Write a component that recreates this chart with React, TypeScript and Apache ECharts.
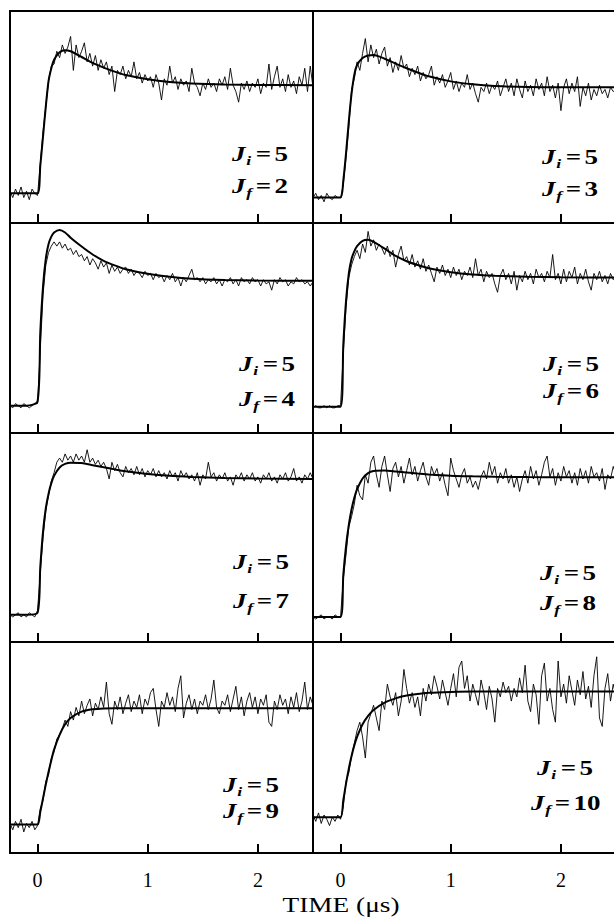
import React, { useEffect, useRef } from "react";
import * as echarts from "echarts";

// Sample times of the recorded traces (μs)
const TIME = [
  -0.25, -0.225, -0.2, -0.175, -0.15, -0.125, -0.1, -0.075, -0.05, -0.025,
  0, 0.025, 0.05, 0.075, 0.1, 0.125, 0.15, 0.175, 0.2, 0.225,
  0.25, 0.275, 0.3, 0.325, 0.35, 0.375, 0.4, 0.425, 0.45, 0.475,
  0.5, 0.525, 0.55, 0.575, 0.6, 0.625, 0.65, 0.675, 0.7, 0.725,
  0.75, 0.775, 0.8, 0.825, 0.85, 0.875, 0.9, 0.925, 0.95, 0.975,
  1.0, 1.025, 1.05, 1.075, 1.1, 1.125, 1.15, 1.175, 1.2, 1.225,
  1.25, 1.275, 1.3, 1.325, 1.35, 1.375, 1.4, 1.425, 1.45, 1.475,
  1.5, 1.525, 1.55, 1.575, 1.6, 1.625, 1.65, 1.675, 1.7, 1.725,
  1.75, 1.775, 1.8, 1.825, 1.85, 1.875, 1.9, 1.925, 1.95, 1.975,
  2.0, 2.025, 2.05, 2.075, 2.1, 2.125, 2.15, 2.175, 2.2, 2.225,
  2.25, 2.275, 2.3, 2.325, 2.35, 2.375, 2.4, 2.425, 2.45, 2.475,
  2.5,
];

// Times at which the fitted curves are given (μs)
const FIT_TIME = [
  -0.25, -0.1, 0, 0.025, 0.05, 0.075, 0.1, 0.125, 0.15, 0.2, 0.25, 0.3,
  0.4, 0.5, 0.6, 0.7, 0.8, 1.0, 1.2, 1.4, 1.7, 2.0, 2.5,
];

const JI = 5;
const JF = [2, 3, 4, 6, 7, 8, 9, 10];
const X_TICKS = [0, 1, 2];

// Measured signals (arb. units, % of panel height)
const DATA_JF2 = [
  15, 12, 16, 13, 17, 12, 15, 11, 16, 14,
  13, 28, 43, 55, 67, 74, 75, 81, 78, 84,
  80, 83, 88, 72, 84, 78, 81, 85, 76, 80,
  74, 79, 72, 77, 73, 76, 70, 74, 62, 72,
  70, 74, 68, 72, 69, 76, 68, 71, 66, 70,
  67, 69, 64, 70, 66, 58, 68, 65, 74, 66,
  69, 63, 68, 65, 67, 62, 73, 66, 64, 60,
  66, 63, 68, 64, 66, 62, 68, 65, 69, 63,
  73, 65, 62, 57, 66, 63, 67, 62, 66, 64,
  68, 61, 66, 64, 75, 63, 69, 74, 64, 68,
  62, 70, 64, 67, 61, 69, 65, 73, 62, 74,
  64,
];
const DATA_JF3 = [
  12, 14, 11, 13, 10, 14, 12, 11, 13, 12,
  12, 18, 31, 45, 63, 68, 76, 72, 80, 87,
  76, 84, 78, 82, 75, 80, 83, 74, 78, 71,
  76, 72, 79, 73, 75, 69, 73, 70, 74, 67,
  71, 68, 70, 74, 65, 69, 66, 70, 64, 67,
  71, 63, 67, 62, 66, 64, 70, 63, 66, 61,
  57, 64, 62, 66, 61, 65, 63, 67, 60, 64,
  68, 62, 66, 60, 68, 63, 59, 67, 62, 65,
  60, 68, 63, 66, 60, 69, 62, 65, 59, 66,
  53, 64, 68, 61, 66, 62, 69, 55, 64, 60,
  66, 58, 63, 60, 65, 61, 63, 59, 64, 62,
  63,
];
const DATA_JF4 = [
  13, 12, 14, 13, 12, 14, 13, 12, 13, 14,
  14, 40, 66, 80, 86, 89, 91, 89, 91, 88,
  90, 87, 88, 85, 87, 84, 85, 82, 84, 80,
  83, 81, 78, 82, 79, 81, 76, 80, 77, 79,
  76, 78, 79, 76, 78, 75, 77, 76, 74, 77,
  75, 76, 73, 76, 74, 75, 72, 75, 73, 76,
  72, 74, 70, 74, 72, 75, 78, 73, 74, 72,
  74, 71, 73, 72, 74, 71, 73, 70, 73, 72,
  74, 71, 73, 70, 74, 72, 73, 71, 74, 72,
  73, 70, 73, 71, 72, 68, 73, 71, 74, 72,
  73, 70, 72, 71, 74, 72, 73, 71, 72, 70,
  72,
];
const DATA_JF6 = [
  12, 13, 12, 12, 13, 12, 13, 12, 12, 13,
  13, 38, 60, 74, 80, 84, 87, 83, 90, 86,
  96, 89, 92, 87, 90, 88, 85, 89, 84, 87,
  79, 85, 89, 82, 84, 80, 85, 79, 82, 78,
  83, 77, 80, 76, 72, 79, 76, 80, 75, 78,
  74, 79, 75, 78, 73, 77, 75, 79, 74, 83,
  75, 78, 72, 77, 74, 76, 71, 67, 75, 78,
  73, 76, 71, 77, 68, 75, 72, 77, 73, 76,
  71, 78, 74, 76, 72, 77, 74, 85, 73, 76,
  71, 78, 72, 77, 74, 79, 71, 76, 73, 78,
  72, 68, 76, 73, 77, 72, 75, 71, 76, 73,
  75,
];
const DATA_JF7 = [
  13, 12, 13, 14, 12, 13, 12, 14, 13, 12,
  15, 33, 50, 63, 70, 77, 81, 86, 88, 86,
  90, 87, 89, 86, 90, 87, 89, 86, 92, 86,
  88, 85, 87, 84, 86, 83, 78, 86, 82, 85,
  81, 79, 84, 81, 83, 80, 84, 80, 83, 79,
  82, 80, 83, 79, 82, 79, 81, 78, 82, 79,
  81, 77, 82, 79, 81, 78, 80, 77, 81, 75,
  80, 78, 86, 79, 81, 77, 80, 78, 81, 77,
  79, 75, 80, 78, 81, 77, 80, 78, 81, 77,
  79, 76, 80, 78, 81, 77, 79, 76, 80, 78,
  81, 77, 79, 83, 77, 79, 76, 80, 78, 81,
  78,
];
const DATA_JF8 = [
  12, 11, 12, 13, 11, 12, 12, 11, 13, 12,
  12, 30, 42, 55, 60, 66, 75, 70, 68, 80,
  76, 86, 89, 80, 74, 84, 89, 80, 72, 83,
  86, 79, 84, 76, 82, 88, 80, 84, 77, 82,
  86, 79, 75, 84, 80, 83, 77, 81, 75, 70,
  88, 82, 78, 74, 80, 83, 76, 79, 74, 77,
  73, 79, 82, 78, 86, 80, 84, 76, 81, 78,
  83, 76, 80, 74, 79, 72, 78, 82, 76, 84,
  78, 82, 75, 80, 86, 89, 79, 83, 75, 81,
  77, 84, 79, 82, 76, 81, 75, 83, 78, 82,
  76, 84, 79, 81, 77, 83, 73, 80, 78, 84,
  80,
];
const DATA_JF9 = [
  14, 11, 15, 12, 16, 10, 14, 12, 15, 11,
  13, 21, 25, 34, 37, 45, 48, 54, 56, 59,
  63, 60, 67, 63, 69, 65, 72, 66, 70, 73,
  65, 71, 68, 74, 69, 81, 66, 61, 72, 68,
  74, 66, 71, 75, 67, 72, 69, 75, 66, 73,
  70, 76, 78, 68, 60, 72, 69, 76, 70, 74,
  67, 78, 84, 64, 71, 75, 68, 73, 66, 72,
  70, 75, 68, 73, 82, 69, 66, 72, 70, 75,
  67, 73, 79, 68, 74, 65, 72, 76, 69, 74,
  66, 73, 70, 75, 62, 60, 72, 68, 75, 70,
  73, 66, 74, 69, 76, 67, 72, 81, 68, 74,
  70,
];
const DATA_JF10 = [
  18, 15, 19, 14, 18, 16, 13, 17, 15, 18,
  16, 22, 34, 38, 46, 52, 58, 62, 55, 45,
  62, 66, 70, 64, 58, 72, 68, 80, 74, 70,
  76, 65, 72, 87, 78, 71, 76, 69, 74, 65,
  78, 72, 80, 75, 84, 79, 73, 82, 76, 70,
  78, 85, 74, 88, 91, 78, 84, 72, 80, 75,
  70, 82, 76, 68, 79, 73, 62, 78, 74, 81,
  76, 79, 72, 78, 74, 83, 76, 89, 72, 67,
  80, 75, 61, 84, 90, 72, 78, 68, 62, 91,
  74, 80, 71, 84, 77, 70, 82, 75, 86, 73,
  79, 69, 84, 93, 64, 60, 78, 85, 72, 80,
  74,
];

// Fitted curves (same units)
const FIT_JF2 = [14, 14, 14, 27, 41, 55, 67, 73, 77, 80.5, 81.5, 81, 78.3, 75.5, 73.3, 71.4, 69.8, 67.8, 66.5, 65.8, 65.3, 65.1, 65];
const FIT_JF3 = [12, 12, 12, 20, 33, 48, 61, 70, 74.5, 77.8, 79, 79.2, 77.5, 75.2, 73, 71, 69.2, 66.8, 65.4, 64.6, 64.1, 64, 64];
const FIT_JF4 = [13, 13, 15, 48, 70, 83, 90, 93.5, 95.5, 96.7, 95.5, 93, 88.8, 85, 82, 79.8, 78, 75.8, 74.4, 73.5, 72.9, 72.6, 72.5];
const FIT_JF6 = [12.5, 12.5, 12.5, 42, 63, 76, 83, 86.5, 89, 91.5, 92, 91, 87.8, 84.3, 81.8, 80, 78.5, 76.6, 75.5, 74.9, 74.4, 74.2, 74];
const FIT_JF7 = [13, 13, 14, 36, 53, 64, 71, 76, 79.5, 83.5, 85.2, 85.8, 85.6, 84.6, 83.6, 82.6, 81.7, 80.4, 79.5, 79, 78.5, 78.2, 78];
const FIT_JF8 = [12, 12, 12, 32, 46, 56, 63.5, 69, 73, 78.2, 80.8, 81.8, 82, 81.6, 81.1, 80.6, 80.2, 79.6, 79.3, 79.1, 78.9, 78.8, 78.8];
const FIT_JF9 = [13.5, 13.5, 13.5, 19.5, 26, 32.5, 38.5, 44, 49, 56, 61, 64, 67, 68.1, 68.5, 68.6, 68.6, 68.6, 68.6, 68.6, 68.6, 68.6, 68.6];
const FIT_JF10 = [17, 17, 17, 25, 33, 40, 46, 51, 55, 61, 65, 67.8, 71.3, 73.3, 74.6, 75.4, 75.9, 76.3, 76.5, 76.5, 76.5, 76.5, 76.5];

const DATA = [DATA_JF2, DATA_JF3, DATA_JF4, DATA_JF6, DATA_JF7, DATA_JF8, DATA_JF9, DATA_JF10];
const FITS = [FIT_JF2, FIT_JF3, FIT_JF4, FIT_JF6, FIT_JF7, FIT_JF8, FIT_JF9, FIT_JF10];

// ---- layout (pixels) ----
const W = 614;
const H = 921;
const COL_LEFT = [10, 313];
const COL_W = 303;
const ROW_TOP = [11, 223, 433, 642];
const ROW_BOTTOM = [223, 433, 642, 853];
// label anchors: [x of J_i line, y of J_i line, x of J_f line, y of J_f line]
const LABEL_POS = [
  [232, 154, 232, 186],
  [542, 157, 542, 189],
  [239, 364, 239, 399],
  [543, 364, 543, 391],
  [233, 562, 233, 601],
  [540, 573, 540, 603],
  [223, 785, 223, 811],
  [537, 768, 531, 803],
];
const SERIF = '"Liberation Serif", "Times New Roman", serif';

function jLine(x: number, y: number, sub: string, value: number) {
  const base = { fill: "#000", fontFamily: SERIF, verticalAlign: "middle", align: "left" };
  return {
    type: "group",
    x,
    y,
    scaleX: 1.35,
    silent: true,
    children: [
      { type: "text", x: 0, y: 0, style: { ...base, text: "J", fontSize: 20, fontWeight: "bold", fontStyle: "italic" } },
      { type: "text", x: 10.5, y: 6, style: { ...base, text: sub, fontSize: 13, fontWeight: "bold", fontStyle: "italic" } },
      { type: "text", x: 17.5, y: 0, style: { ...base, text: "=", fontSize: 20, fontWeight: "bold" } },
      { type: "text", x: 31.5, y: 0, style: { ...base, text: String(value), fontSize: 20, fontWeight: "bold" } },
    ],
  };
}

export default function App() {
  const ref = useRef<HTMLDivElement>(null);
  useEffect(() => {
    if (!ref.current) return;
    const chart = echarts.init(ref.current, undefined, { renderer: "svg" });
    const grids: any[] = [];
    const xAxes: any[] = [];
    const yAxes: any[] = [];
    const series: any[] = [];
    const graphics: any[] = [];
    for (let k = 0; k < 8; k++) {
      const row = Math.floor(k / 2);
      const col = k % 2;
      grids.push({
        left: COL_LEFT[col],
        top: ROW_TOP[row],
        width: COL_W,
        height: ROW_BOTTOM[row] - ROW_TOP[row],
        show: true,
        borderColor: "#000",
        borderWidth: 2,
        backgroundColor: "transparent",
        containLabel: false,
        outerBoundsMode: "none",
      });
      xAxes.push({
        type: "value",
        gridIndex: k,
        min: -0.25,
        max: 2.5,
        axisLine: { show: false },
        splitLine: { show: false },
        axisTick: {
          show: true,
          inside: true,
          length: 9,
          customValues: X_TICKS,
          lineStyle: { color: "#000", width: 2 },
        },
        axisLabel: {
          show: row === 3,
          customValues: X_TICKS,
          margin: 17,
          fontSize: 20,
          fontFamily: SERIF,
          color: "#000",
        },
      });
      yAxes.push({ type: "value", gridIndex: k, min: 0, max: 100, show: false });
      series.push({
        type: "line",
        xAxisIndex: k,
        yAxisIndex: k,
        data: FIT_TIME.map((t, i) => [t, FITS[k][i]]),
        showSymbol: false,
        smooth: 0.25,
        lineStyle: { color: "#000", width: 2 },
        silent: true,
      });
      series.push({
        type: "line",
        xAxisIndex: k,
        yAxisIndex: k,
        data: TIME.map((t, i) => [t, DATA[k][i]]),
        showSymbol: false,
        lineStyle: { color: "#000", width: 0.9 },
        silent: true,
      });
      const p = LABEL_POS[k];
      graphics.push(jLine(p[0], p[1], "i", JI));
      graphics.push(jLine(p[2], p[3], "f", JF[k]));
    }
    graphics.push({
      type: "text",
      x: 341,
      y: 905,
      scaleX: 1.3,
      silent: true,
      style: {
        text: "TIME (μs)",
        fontFamily: SERIF,
        fontSize: 21,
        fill: "#000",
        align: "center",
        verticalAlign: "middle",
      },
    });
    chart.setOption({
      animation: false,
      backgroundColor: "#fff",
      grid: grids,
      xAxis: xAxes,
      yAxis: yAxes,
      series,
      graphic: graphics,
    });
    return () => chart.dispose();
  }, []);
  return (
    <div
      ref={ref}
      style={{ position: "absolute", left: 0, top: 0, width: W, height: H }}
    />
  );
}
